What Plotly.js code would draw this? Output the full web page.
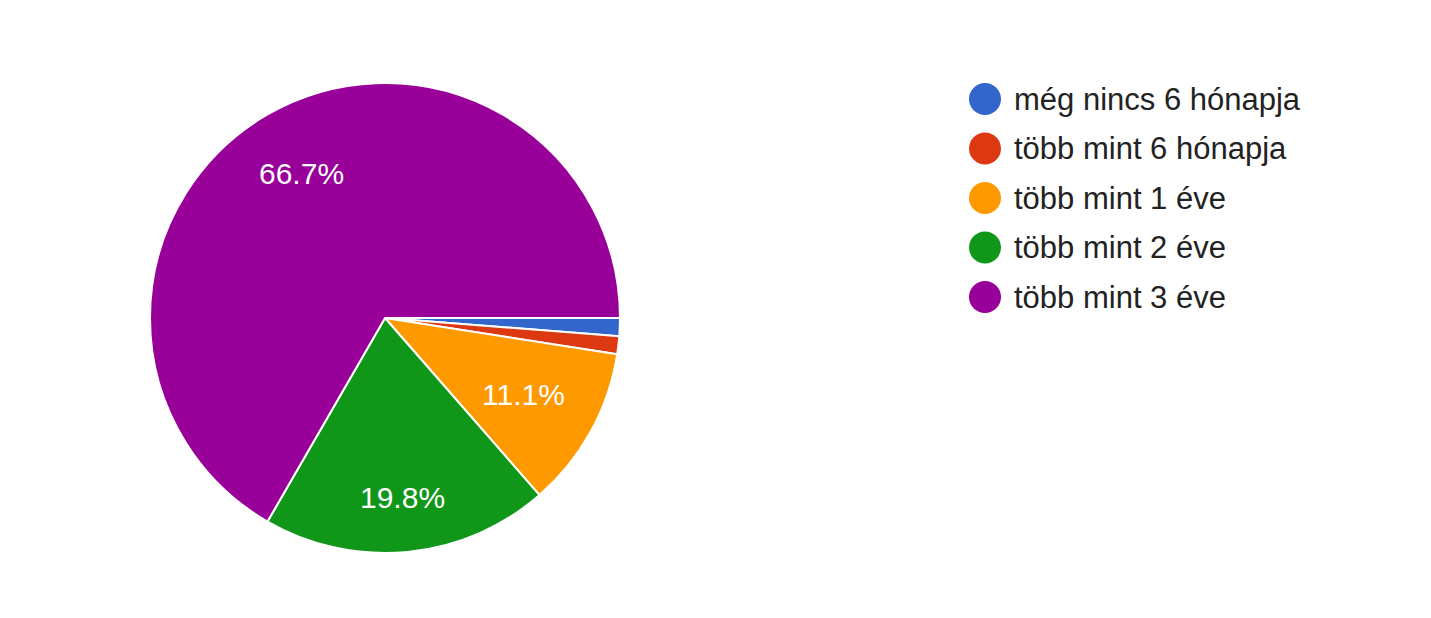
<!DOCTYPE html>
<html>
<head>
<meta charset="utf-8">
<script src="https://cdn.plot.ly/plotly-3.0.1.min.js"></script>
<style>
html,body{margin:0;padding:0;background:#fff;}
#chart{width:1431px;height:618px;}
</style>
</head>
<body>
<div id="chart"></div>
<script>
const categories = ["még nincs 6 hónapja", "több mint 6 hónapja", "több mint 1 éve", "több mint 2 éve", "több mint 3 éve"];
const counts = [1, 1, 9, 16, 54];
const colors = ["#3366cc", "#dc3912", "#ff9900", "#109618", "#990099"];

const W = 1431, H = 618;
const FONT = "Arial, 'Liberation Sans', sans-serif";
const total = counts.reduce((a, b) => a + b, 0);

const cx = 385, cy = 318, r = 235;

const trace = {
  type: "pie",
  labels: categories,
  values: counts,
  sort: false,
  direction: "clockwise",
  rotation: 90,
  marker: {colors: colors, line: {color: "#ffffff", width: 2}},
  textinfo: "none",
  hoverinfo: "label+percent",
  showlegend: false,
  domain: {x: [(cx - r) / W, (cx + r) / W], y: [1 - (cy + r) / H, 1 - (cy - r) / H]}
};

// slice percentage labels (placed along each slice's mid-angle, derived from the data)
const labelSize = 30;
const ctx = document.createElement("canvas").getContext("2d");
ctx.font = labelSize + "px Arial, 'Liberation Sans', sans-serif";
const outerR = 0.85 * r;
const annotations = [];
let cum = 0;
counts.forEach((v, i) => {
  const frac = v / total;
  const mid = cum + frac / 2;
  cum += frac;
  if (frac < 0.05) return;
  const txt = (frac * 100).toFixed(1) + "%";
  const ang = mid * 2 * Math.PI; // clockwise from 3 o'clock (screen coords)
  const ux = Math.cos(ang), uy = Math.sin(ang);
  const hw = ctx.measureText(txt).width / 2, hh = labelSize * 0.37;
  const b = Math.abs(ux) * hw + Math.abs(uy) * hh;
  const d = -b + Math.sqrt(b * b - (hw * hw + hh * hh - outerR * outerR));
  annotations.push({
    xref: "paper", yref: "paper",
    x: (cx + d * ux) / W, y: 1 - (cy + d * uy) / H,
    xanchor: "center", yanchor: "middle",
    text: txt, showarrow: false,
    font: {family: FONT, size: labelSize, color: "#ffffff"}
  });
});

// custom legend with large round markers
const legX = 985, legY0 = 99, legStep = 49.5, dotR = 16;
const shapes = categories.map((c, i) => ({
  type: "circle", xref: "paper", yref: "paper",
  xsizemode: "pixel", ysizemode: "pixel",
  xanchor: legX / W, yanchor: 1 - (legY0 + i * legStep) / H,
  x0: -dotR, x1: dotR, y0: -dotR, y1: dotR,
  fillcolor: colors[i], line: {width: 0}
}));
categories.forEach((c, i) => annotations.push({
  xref: "paper", yref: "paper",
  x: 1012 / W, y: 1 - (legY0 + i * legStep) / H,
  xanchor: "left", yanchor: "middle",
  text: c, showarrow: false,
  font: {family: FONT, size: 31, color: "#222222"}
}));

const layout = {
  width: W, height: H,
  margin: {l: 0, r: 0, t: 0, b: 0},
  paper_bgcolor: "#ffffff",
  showlegend: false,
  shapes: shapes,
  annotations: annotations
};

Plotly.newPlot("chart", [trace], layout, {displayModeBar: false, staticPlot: true});
</script>
</body>
</html>
